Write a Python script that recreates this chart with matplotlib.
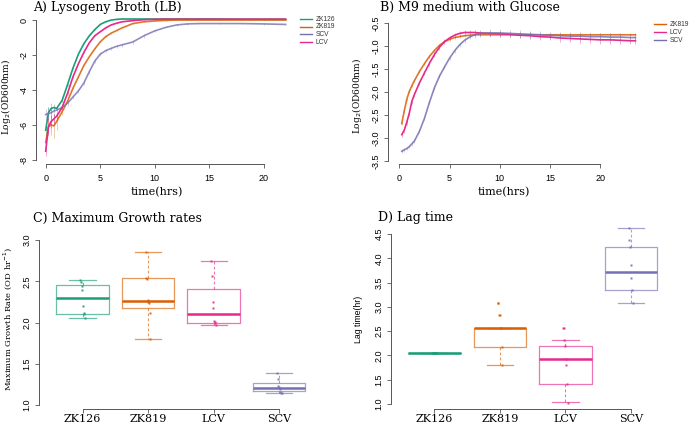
import matplotlib
matplotlib.use("Agg")
import matplotlib.pyplot as plt
from matplotlib.lines import Line2D
import numpy as np

plt.rcParams["axes.unicode_minus"] = False
SERIF = "DejaVu Serif"
SANS = "Liberation Sans"
AXC = "#555555"

colors = {"ZK126": "#1B9E77", "ZK819": "#D95F02", "SCV": "#7570B3", "LCV": "#E7298A"}

# ---- A) Lysogeny Broth growth curves ----
t_lb = [0, 0.25, 0.5, 0.75, 1.0, 1.5, 2.0, 2.5, 3.0, 3.5, 4.0, 4.5, 5.0, 5.5,
        6.0, 6.5, 7.0, 8.0, 9.0, 10.0, 11.0, 12.0, 13.0, 14.0, 16.0, 18.0, 20.0, 22.0]
lb_zk126 = [-6.3, -5.3, -5.05, -5.0, -5.05, -4.6, -3.7, -2.75, -1.95, -1.35, -0.9, -0.55, -0.25, -0.1,
            0.0, 0.04, 0.06, 0.06, 0.06, 0.06, 0.06, 0.06, 0.06, 0.06, 0.06, 0.05, 0.05, 0.05]
lb_zk819 = [-7.0, -6.1, -6.0, -6.05, -5.8, -5.25, -4.65, -3.9, -3.25, -2.6, -2.1, -1.65, -1.25, -0.95,
            -0.75, -0.6, -0.45, -0.2, -0.1, -0.05, -0.02, 0.0, 0.0, 0.0, 0.0, 0.0, 0.0, 0.0]
lb_scv = [-5.4, -5.35, -5.3, -5.2, -5.15, -5.0, -4.75, -4.4, -4.05, -3.6, -2.95, -2.35, -1.95, -1.75,
          -1.62, -1.5, -1.42, -1.25, -0.9, -0.62, -0.42, -0.28, -0.22, -0.2, -0.2, -0.2, -0.22, -0.25]
lb_lcv = [-7.5, -6.1, -5.8, -5.65, -5.5, -5.0, -4.2, -3.25, -2.5, -1.85, -1.3, -0.9, -0.67, -0.45,
          -0.28, -0.18, -0.1, -0.03, 0.02, 0.04, 0.05, 0.05, 0.05, 0.05, 0.05, 0.05, 0.05, 0.05]
err_zk126 = [0.3, 0.35, 0.3, 0.2, 0.1, 0.06, 0.05, 0.04, 0.03, 0.03, 0.03, 0.02, 0.02, 0.02,
             0.02, 0.02, 0.02, 0.02, 0.02, 0.02, 0.02, 0.02, 0.02, 0.02, 0.02, 0.02, 0.02, 0.02]
err_zk819 = [0.3, 0.5, 0.6, 0.7, 0.5, 0.2, 0.1, 0.06, 0.05, 0.04, 0.04, 0.03, 0.03, 0.03,
             0.02, 0.02, 0.02, 0.02, 0.02, 0.02, 0.02, 0.02, 0.02, 0.02, 0.02, 0.02, 0.02, 0.02]
err_scv = [0.3, 0.4, 0.35, 0.3, 0.2, 0.15, 0.15, 0.12, 0.12, 0.12, 0.12, 0.1, 0.1, 0.1,
           0.1, 0.1, 0.1, 0.1, 0.1, 0.08, 0.05, 0.04, 0.04, 0.04, 0.04, 0.04, 0.04, 0.04]
err_lcv = [0.3, 0.5, 0.4, 0.3, 0.2, 0.1, 0.08, 0.05, 0.04, 0.04, 0.03, 0.03, 0.03, 0.03,
           0.02, 0.02, 0.02, 0.02, 0.02, 0.02, 0.02, 0.02, 0.02, 0.02, 0.02, 0.02, 0.02, 0.02]

# ---- B) M9 medium with glucose ----
t_m9 = [0.25, 0.5, 0.75, 1.0, 1.25, 1.5, 2.0, 2.5, 3.0, 3.5, 4.0, 4.5, 5.0, 5.5, 6.0, 6.5, 7.0, 7.5,
        8.0, 9.0, 10.0, 11.0, 12.0, 13.0, 14.0, 15.0, 16.0, 17.0, 18.0, 19.0, 20.0, 21.0, 22.0, 23.0, 23.5]
m9_zk819 = [-2.68, -2.4, -2.15, -1.98, -1.86, -1.75, -1.55, -1.38, -1.22, -1.09, -0.98, -0.9, -0.85, -0.81,
            -0.79, -0.77, -0.76, -0.75, -0.75, -0.75, -0.75, -0.75, -0.75, -0.75, -0.75, -0.75, -0.75,
            -0.75, -0.75, -0.75, -0.75, -0.75, -0.75, -0.75, -0.75]
m9_lcv = [-2.92, -2.82, -2.65, -2.45, -2.2, -2.05, -1.8, -1.58, -1.37, -1.18, -1.02, -0.9, -0.82, -0.76,
          -0.72, -0.7, -0.7, -0.7, -0.71, -0.72, -0.73, -0.74, -0.76, -0.77, -0.79, -0.8, -0.82,
          -0.83, -0.84, -0.85, -0.86, -0.86, -0.87, -0.88, -0.88]
m9_scv = [-3.28, -3.25, -3.22, -3.18, -3.12, -3.06, -2.85, -2.57, -2.22, -1.9, -1.65, -1.45, -1.26, -1.1,
          -0.97, -0.87, -0.8, -0.75, -0.72, -0.71, -0.71, -0.72, -0.73, -0.74, -0.75, -0.76, -0.77,
          -0.78, -0.78, -0.79, -0.79, -0.8, -0.8, -0.81, -0.81]
m9err_zk819 = [0.03, 0.03, 0.03, 0.03, 0.03, 0.03, 0.03, 0.03, 0.03, 0.03, 0.03, 0.03, 0.03, 0.03,
               0.03, 0.03, 0.03, 0.03, 0.03, 0.03, 0.03, 0.03, 0.03, 0.03, 0.03, 0.03, 0.03,
               0.03, 0.03, 0.03, 0.03, 0.03, 0.03, 0.03, 0.03]
m9err_lcv = [0.06, 0.06, 0.06, 0.06, 0.05, 0.05, 0.05, 0.05, 0.05, 0.05, 0.05, 0.05, 0.05, 0.05,
             0.05, 0.05, 0.05, 0.05, 0.05, 0.06, 0.06, 0.06, 0.07, 0.07, 0.07, 0.07, 0.08,
             0.08, 0.08, 0.08, 0.08, 0.08, 0.08, 0.08, 0.08]
m9err_scv = [0.04, 0.04, 0.04, 0.04, 0.04, 0.04, 0.04, 0.04, 0.04, 0.04, 0.04, 0.04, 0.04, 0.04,
             0.04, 0.05, 0.05, 0.06, 0.07, 0.08, 0.08, 0.08, 0.08, 0.08, 0.08, 0.08, 0.08,
             0.08, 0.08, 0.08, 0.08, 0.08, 0.08, 0.08, 0.08]

# ---- C / D) box plots ----
groups = ["ZK126", "ZK819", "LCV", "SCV"]
rate_pts = [[2.52, 2.49, 2.44, 2.40, 2.20, 2.11, 2.10, 2.05],
            [2.85, 2.54, 2.53, 2.27, 2.25, 2.24, 2.12, 1.80],
            [2.74, 2.56, 2.25, 2.18, 2.02, 2.01, 1.99, 1.97],
            [1.39, 1.32, 1.23, 1.22, 1.20, 1.16, 1.15, 1.15]]
rate_med = [2.30, 2.26, 2.10, 1.21]
rate_q1 = [2.105, 2.18, 2.00, 1.17]
rate_q3 = [2.46, 2.535, 2.405, 1.27]
rate_lo = [2.05, 1.80, 1.965, 1.15]
rate_hi = [2.52, 2.85, 2.74, 1.39]

lag_pts = [[2.06, 2.06, 2.06, 2.06, 2.06, 2.06, 2.06, 2.06],
           [3.08, 3.08, 2.83, 2.83, 2.57, 2.57, 2.18, 1.80],
           [2.57, 2.57, 2.31, 2.19, 1.93, 1.80, 1.42, 1.03],
           [4.62, 4.37, 4.24, 3.86, 3.60, 3.34, 3.09]]
lag_med = [2.06, 2.57, 1.93, 3.72]
lag_q1 = [2.06, 2.18, 1.42, 3.34]
lag_q3 = [2.06, 2.57, 2.19, 4.24]
lag_lo = [2.06, 1.80, 1.035, 3.09]
lag_hi = [2.06, 2.57, 2.31, 4.62]

W, H = 691, 426
fig = plt.figure(figsize=(W / 100, H / 100), dpi=100)


def axes_px(l, t, r, b):
    return fig.add_axes([l / W, 1 - b / H, (r - l) / W, (b - t) / H])


def fx(x):
    return x / W


def fy(y):
    return 1 - y / H


def style(ax, xb, yb):
    for s in ["top", "right"]:
        ax.spines[s].set_visible(False)
    for s in ["left", "bottom"]:
        ax.spines[s].set_color(AXC)
        ax.spines[s].set_linewidth(0.7)
    ax.spines["bottom"].set_bounds(*xb)
    ax.spines["left"].set_bounds(*yb)
    ax.tick_params(length=3, width=0.6, color=AXC, labelsize=6.5, pad=2.5)
    ax.tick_params(axis="y", labelrotation=90)
    for lab in ax.get_yticklabels() + ax.get_xticklabels():
        lab.set_family(SANS)
    for lab in ax.get_yticklabels():
        lab.set_va("center")
    ax.patch.set_alpha(0)


def curve(ax, t, v, e, c, alpha=1.0):
    ax.errorbar(t, v, yerr=e, fmt="none", ecolor=c, elinewidth=0.6, alpha=0.45 * alpha, capsize=0)
    ax.plot(t, v, color=c, lw=1.2, alpha=alpha)


def legend(x0, ys, names):
    for y, n in zip(ys, names):
        fig.add_artist(Line2D([fx(x0), fx(x0 + 12)], [fy(y), fy(y)], color=colors[n], lw=1.0))
        fig.text(fx(x0 + 16), fy(y), n, fontsize=4.8, family=SANS, va="center", color="#333333")


# A
axA = axes_px(36, 15, 295, 164)
curve(axA, t_lb, lb_zk126, err_zk126, colors["ZK126"])
curve(axA, t_lb, lb_zk819, err_zk819, colors["ZK819"], 0.85)
curve(axA, t_lb, lb_scv, err_scv, colors["SCV"], 0.8)
curve(axA, t_lb, lb_lcv, err_lcv, colors["LCV"])
axA.set_xlim(-0.89, 22.87)
axA.set_ylim(-8.23, 0.29)
axA.set_xticks([0, 5, 10, 15, 20])
axA.set_yticks([-8, -6, -4, -2, 0])
style(axA, (0, 20), (-8, 0))
axA.tick_params(axis="x", pad=4.5)
fig.text(fx(33), fy(7), "A) Lysogeny Broth (LB)", fontsize=9, family=SERIF, va="center")
fig.text(fx(157), fy(192), "time(hrs)", fontsize=8, family=SERIF, ha="center", va="center")
fig.text(fx(6), fy(97), "Log$_2$(OD600nm)", fontsize=6.5, family=SERIF, rotation=90,
         ha="center", va="center")
legend(300, [19.3, 26.7, 34.3, 42.3], ["ZK126", "ZK819", "SCV", "LCV"])

# B
axB = axes_px(388, 15, 650, 164)
curve(axB, t_m9, m9_zk819, m9err_zk819, colors["ZK819"], 0.85)
curve(axB, t_m9, m9_lcv, m9err_lcv, colors["LCV"])
curve(axB, t_m9, m9_scv, m9err_scv, colors["SCV"], 0.85)
axB.set_xlim(-1.12, 24.95)
axB.set_ylim(-3.557, -0.32)
axB.set_xticks([0, 5, 10, 15, 20])
yt = [-3.5, -3.0, -2.5, -2.0, -1.5, -1.0, -0.5]
axB.set_yticks(yt)
axB.set_yticklabels([f"{v:.1f}" for v in yt])
style(axB, (0, 20), (-3.5, -0.5))
axB.tick_params(axis="x", pad=4.5)
fig.text(fx(380), fy(7), "B) M9 medium with Glucose", fontsize=9, family=SERIF, va="center")
fig.text(fx(504), fy(192), "time(hrs)", fontsize=8, family=SERIF, ha="center", va="center")
fig.text(fx(357.5), fy(96), "Log$_2$(OD600nm)", fontsize=6.5, family=SERIF, rotation=90,
         ha="center", va="center")
legend(654, [24.3, 32.3, 40.0], ["ZK819", "LCV", "SCV"])


def boxes(ax, pts, med, q1, q3, lo, hi):
    pos = np.arange(1, len(groups) + 1)
    stats = [dict(med=m, q1=a, q3=b, whislo=l, whishi=h, fliers=[])
             for m, a, b, l, h in zip(med, q1, q3, lo, hi)]
    bp = ax.bxp(stats, positions=pos, widths=0.8, showfliers=False, patch_artist=False)
    for i, g in enumerate(groups):
        c = colors[g]
        bp["boxes"][i].set(color=c, alpha=0.65, lw=0.9)
        bp["medians"][i].set(color=c, lw=1.8)
        for w in bp["whiskers"][2 * i:2 * i + 2]:
            w.set(color=c, alpha=0.65, lw=0.8, ls=(0, (2.5, 2)))
        for cp in bp["caps"][2 * i:2 * i + 2]:
            cp.set(color=c, alpha=0.65, lw=0.9)
        jit = [-0.035, -0.025, -0.015, -0.005, 0.005, 0.015, 0.025, 0.035]
        xs = [pos[i] + jit[k % 8] for k in range(len(pts[i]))]
        ax.plot(xs, pts[i], "s", ms=1.6, color=c, mec="none", alpha=0.9)
    ax.set_xlim(0.34, 4.66)
    ax.set_xticks(pos)
    ax.set_xticklabels(groups)


# C
axC = axes_px(39.3, 233, 322.5, 409)
boxes(axC, rate_pts, rate_med, rate_q1, rate_q3, rate_lo, rate_hi)
axC.set_ylim(0.952, 3.085)
yt = [1.0, 1.5, 2.0, 2.5, 3.0]
axC.set_yticks(yt)
axC.set_yticklabels([f"{v:.1f}" for v in yt])
style(axC, (1, 4), (1.0, 3.0))
axC.tick_params(axis="x", pad=0.8)
for lab in axC.get_xticklabels():
    lab.set_family(SERIF)
    lab.set_fontsize(8)
fig.text(fx(33), fy(218), "C) Maximum Growth rates", fontsize=9, family=SERIF, va="center")
fig.text(fx(8), fy(319), "Maximum Growth Rate (OD hr$^{-1}$)", fontsize=6, family=SERIF,
         rotation=90, ha="center", va="center")

# D
axD = axes_px(391, 221, 674.3, 409)
boxes(axD, lag_pts, lag_med, lag_q1, lag_q3, lag_lo, lag_hi)
axD.set_ylim(0.897, 4.77)
yt = [1.0, 1.5, 2.0, 2.5, 3.0, 3.5, 4.0, 4.5]
axD.set_yticks(yt)
axD.set_yticklabels([f"{v:.1f}" for v in yt])
style(axD, (1, 4), (1.0, 4.5))
axD.tick_params(axis="x", pad=0.8)
for lab in axD.get_xticklabels():
    lab.set_family(SERIF)
    lab.set_fontsize(8)
fig.text(fx(378), fy(218), "D) Lag time", fontsize=9, family=SERIF, va="center")
fig.text(fx(358.5), fy(319), "Lag time(hr)", fontsize=6.3, family=SANS,
         rotation=90, ha="center", va="center")

fig.savefig("out.png", dpi=100)
